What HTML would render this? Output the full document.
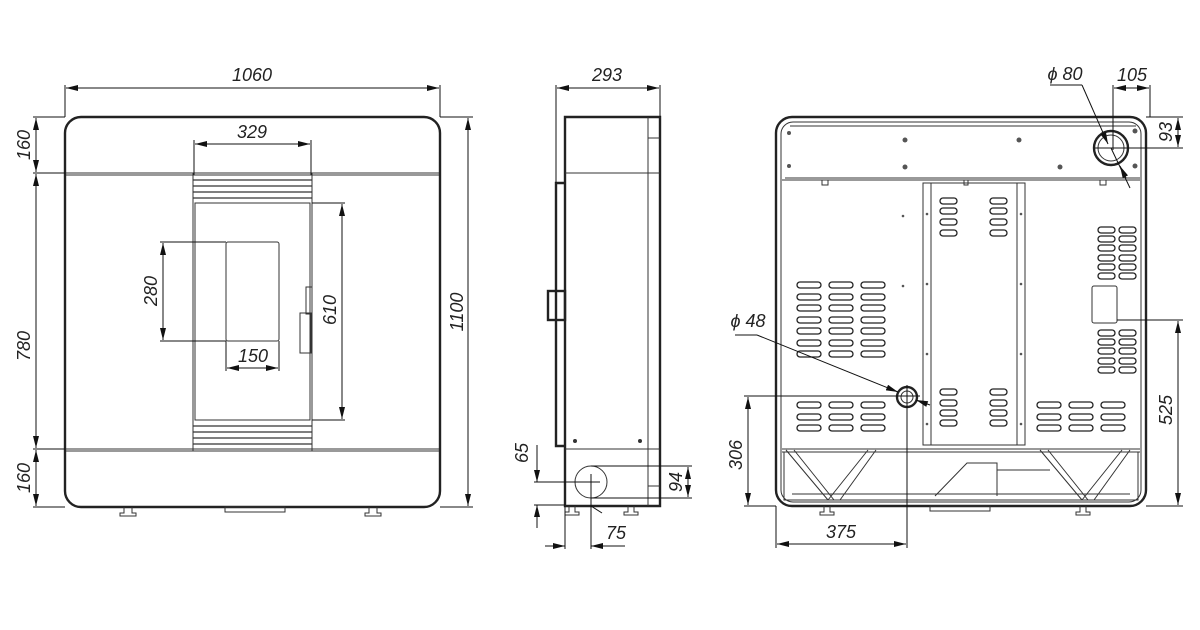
<!DOCTYPE html>
<html><head><meta charset="utf-8"><style>
html,body{margin:0;padding:0;background:#fff}
svg{display:block}
text{font-family:"Liberation Sans",sans-serif;font-size:18px;font-style:italic;fill:#222}
.o{fill:none;stroke:#222;stroke-width:2.4}
.t{fill:none;stroke:#333;stroke-width:1}
.m{fill:none;stroke:#333;stroke-width:1.3}
.d{stroke:#111;stroke-width:1;fill:none}
</style></head><body>
<svg width="1200" height="630" viewBox="0 0 1200 630" xmlns="http://www.w3.org/2000/svg">
<defs>
<marker id="a" viewBox="0 0 12 6" refX="12" refY="3" markerWidth="12" markerHeight="6" markerUnits="userSpaceOnUse" orient="auto-start-reverse"><path d="M0,0L12,3L0,6z" fill="#111"/></marker>
<rect id="s" width="24" height="6" rx="3" fill="none" stroke="#222" stroke-width="1.3"/>
<rect id="ss" width="17" height="6" rx="3" fill="none" stroke="#222" stroke-width="1.3"/>
</defs>

<!-- FRONT VIEW -->
<rect class="o" x="65" y="117" width="375" height="390" rx="16"/>
<line class="t" x1="66" y1="173" x2="439" y2="173"/><line class="t" x1="66" y1="175" x2="439" y2="175"/>
<line class="t" x1="66" y1="449" x2="439" y2="449"/><line class="t" x1="66" y1="451" x2="439" y2="451"/>
<rect class="t" x="193" y="173" width="119" height="278"/>
<g class="m"><line x1="193" y1="180" x2="312" y2="180"/><line x1="193" y1="186" x2="312" y2="186"/><line x1="193" y1="192" x2="312" y2="192"/><line x1="193" y1="198" x2="312" y2="198"/>
<line x1="193" y1="426" x2="312" y2="426"/><line x1="193" y1="432" x2="312" y2="432"/><line x1="193" y1="438" x2="312" y2="438"/><line x1="193" y1="444" x2="312" y2="444"/></g>
<rect class="t" x="195" y="203" width="115" height="217"/>
<rect class="t" x="226" y="242" width="53" height="99" rx="2"/>
<rect class="t" x="300" y="313" width="11" height="40"/>
<rect class="t" x="306" y="287" width="6" height="27"/>
<rect class="t" x="225" y="507" width="60" height="5"/>
<path class="t" d="M124 507v6h-4v3h16v-3h-4v-6M369 507v6h-4v3h16v-3h-4v-6"/>
<g class="d">
<line x1="65" y1="85" x2="65" y2="117"/><line x1="440" y1="85" x2="440" y2="117"/>
<line x1="66" y1="88" x2="439" y2="88" marker-start="url(#a)" marker-end="url(#a)"/>
<line x1="440" y1="117" x2="473" y2="117"/><line x1="440" y1="507" x2="473" y2="507"/>
<line x1="468" y1="118" x2="468" y2="506" marker-start="url(#a)" marker-end="url(#a)"/>
<line x1="33" y1="117" x2="65" y2="117"/><line x1="33" y1="173" x2="65" y2="173"/><line x1="33" y1="449" x2="65" y2="449"/><line x1="33" y1="507" x2="65" y2="507"/>
<line x1="36" y1="118" x2="36" y2="172" marker-start="url(#a)" marker-end="url(#a)"/>
<line x1="36" y1="174" x2="36" y2="448" marker-start="url(#a)" marker-end="url(#a)"/>
<line x1="36" y1="450" x2="36" y2="506" marker-start="url(#a)" marker-end="url(#a)"/>
<line x1="194" y1="140" x2="194" y2="175"/><line x1="311" y1="140" x2="311" y2="175"/>
<line x1="195" y1="144" x2="310" y2="144" marker-start="url(#a)" marker-end="url(#a)"/>
<line x1="160" y1="242" x2="226" y2="242"/><line x1="160" y1="341" x2="226" y2="341"/>
<line x1="163" y1="243" x2="163" y2="340" marker-start="url(#a)" marker-end="url(#a)"/>
<line x1="312" y1="203" x2="345" y2="203"/><line x1="312" y1="420" x2="345" y2="420"/>
<line x1="342" y1="204" x2="342" y2="419" marker-start="url(#a)" marker-end="url(#a)"/>
<line x1="226" y1="341" x2="226" y2="371"/><line x1="279" y1="341" x2="279" y2="371"/>
<line x1="227" y1="368" x2="278" y2="368" marker-start="url(#a)" marker-end="url(#a)"/>
</g>
<text x="252" y="81" text-anchor="middle">1060</text>
<text x="252" y="138" text-anchor="middle">329</text>
<text x="253" y="362" text-anchor="middle">150</text>
<text transform="translate(463,312) rotate(-90)" text-anchor="middle">1100</text>
<text transform="translate(30,145) rotate(-90)" text-anchor="middle">160</text>
<text transform="translate(30,346) rotate(-90)" text-anchor="middle">780</text>
<text transform="translate(30,478) rotate(-90)" text-anchor="middle">160</text>
<text transform="translate(157,291) rotate(-90)" text-anchor="middle">280</text>
<text transform="translate(336,310) rotate(-90)" text-anchor="middle">610</text>

<!-- SIDE VIEW -->
<path class="o" d="M565 117H660V506H565Z"/>
<path class="o" d="M565 183H556V446H565" />
<rect class="o" x="548" y="291" width="17" height="29"/>
<line class="t" x1="565" y1="173" x2="660" y2="173"/>
<line class="t" x1="565" y1="449" x2="660" y2="449"/>
<line class="t" x1="648" y1="117" x2="648" y2="506"/>
<line class="t" x1="648" y1="138" x2="660" y2="138"/>
<line class="t" x1="648" y1="486" x2="660" y2="486"/>
<circle cx="575" cy="441" r="2" fill="#333"/><circle cx="640" cy="441" r="2" fill="#333"/>
<circle class="t" cx="591" cy="482" r="16"/>
<path class="t" d="M569 506v6h-4v3h14v-3h-4v-6M628 506v6h-4v3h14v-3h-4v-6"/>
<g class="d">
<line x1="556" y1="85" x2="556" y2="183"/><line x1="660" y1="85" x2="660" y2="117"/>
<line x1="557" y1="88" x2="659" y2="88" marker-start="url(#a)" marker-end="url(#a)"/>
<line x1="534" y1="482" x2="600" y2="482"/><line x1="534" y1="505" x2="565" y2="505"/>
<line x1="537" y1="445" x2="537" y2="482" marker-end="url(#a)"/>
<line x1="537" y1="528" x2="537" y2="505" marker-end="url(#a)"/>
<line x1="591" y1="474" x2="591" y2="549"/><line x1="565" y1="506" x2="565" y2="549"/>
<line x1="545" y1="546" x2="565" y2="546" marker-end="url(#a)"/>
<line x1="625" y1="546" x2="591" y2="546" marker-end="url(#a)"/>
<line x1="591" y1="466" x2="692" y2="466"/><line x1="591" y1="498" x2="692" y2="498"/>
<line x1="688" y1="467" x2="688" y2="497" marker-start="url(#a)" marker-end="url(#a)"/>
<line x1="591" y1="506" x2="602" y2="513"/>
</g>
<text x="607" y="81" text-anchor="middle">293</text>
<text x="616" y="539" text-anchor="middle">75</text>
<text transform="translate(528,453) rotate(-90)" text-anchor="middle">65</text>
<text transform="translate(682,482) rotate(-90)" text-anchor="middle">94</text>

<!-- BACK VIEW -->
<rect class="o" x="776" y="117" width="370" height="389" rx="16"/>
<rect class="t" x="781" y="122" width="360" height="380" rx="12"/>
<line class="t" x1="790" y1="126" x2="1136" y2="126"/>
<line class="t" x1="782" y1="180" x2="1140" y2="180"/>
<line class="t" x1="785" y1="178" x2="1140" y2="178"/>
<rect class="t" x="923" y="183" width="102" height="262"/>
<line class="t" x1="931" y1="183" x2="931" y2="445"/><line class="t" x1="1017" y1="183" x2="1017" y2="445"/>
<line class="t" x1="782" y1="449" x2="1140" y2="449"/>
<line class="t" x1="782" y1="452" x2="1140" y2="452"/>
<circle class="o" cx="1111" cy="148" r="17" stroke-width="1.5"/><circle class="t" cx="1111" cy="148" r="13"/>
<circle class="o" cx="907" cy="397" r="10" stroke-width="1.5"/><circle class="t" cx="907" cy="397" r="6"/>
<g fill="#555"><circle cx="905" cy="140" r="2.5"/><circle cx="1019" cy="140" r="2.5"/><circle cx="905" cy="167" r="2.5"/><circle cx="1060" cy="167" r="2.5"/><circle cx="1135" cy="131" r="2.5"/><circle cx="1135" cy="166" r="2.5"/><circle cx="789" cy="133" r="2"/><circle cx="789" cy="166" r="2"/>
<circle cx="903" cy="216" r="1.3"/><circle cx="903" cy="286" r="1.3"/><circle cx="927" cy="214" r="1.3"/><circle cx="927" cy="284" r="1.3"/><circle cx="927" cy="354" r="1.3"/><circle cx="927" cy="424" r="1.3"/><circle cx="1021" cy="214" r="1.3"/><circle cx="1021" cy="284" r="1.3"/><circle cx="1021" cy="354" r="1.3"/><circle cx="1021" cy="424" r="1.3"/></g>
<path class="t" d="M822 180v5h6v-5M964 180v5h4v-5M1100 180v5h6v-5"/>
<g>
<use href="#s" x="797" y="282"/><use href="#s" x="829" y="282"/><use href="#s" x="861" y="282"/>
<use href="#s" x="797" y="294"/><use href="#s" x="829" y="294"/><use href="#s" x="861" y="294"/>
<use href="#s" x="797" y="305"/><use href="#s" x="829" y="305"/><use href="#s" x="861" y="305"/>
<use href="#s" x="797" y="317"/><use href="#s" x="829" y="317"/><use href="#s" x="861" y="317"/>
<use href="#s" x="797" y="328"/><use href="#s" x="829" y="328"/><use href="#s" x="861" y="328"/>
<use href="#s" x="797" y="340"/><use href="#s" x="829" y="340"/><use href="#s" x="861" y="340"/>
<use href="#s" x="797" y="351"/><use href="#s" x="829" y="351"/><use href="#s" x="861" y="351"/>
<use href="#s" x="797" y="402"/><use href="#s" x="829" y="402"/><use href="#s" x="861" y="402"/>
<use href="#s" x="797" y="414"/><use href="#s" x="829" y="414"/><use href="#s" x="861" y="414"/>
<use href="#s" x="797" y="425"/><use href="#s" x="829" y="425"/><use href="#s" x="861" y="425"/>
<use href="#s" x="1037" y="402"/><use href="#s" x="1069" y="402"/><use href="#s" x="1101" y="402"/>
<use href="#s" x="1037" y="414"/><use href="#s" x="1069" y="414"/><use href="#s" x="1101" y="414"/>
<use href="#s" x="1037" y="425"/><use href="#s" x="1069" y="425"/><use href="#s" x="1101" y="425"/>
<use href="#ss" x="940" y="198"/><use href="#ss" x="990" y="198"/>
<use href="#ss" x="940" y="208"/><use href="#ss" x="990" y="208"/>
<use href="#ss" x="940" y="219"/><use href="#ss" x="990" y="219"/>
<use href="#ss" x="940" y="230"/><use href="#ss" x="990" y="230"/>
<use href="#ss" x="940" y="389"/><use href="#ss" x="990" y="389"/>
<use href="#ss" x="940" y="400"/><use href="#ss" x="990" y="400"/>
<use href="#ss" x="940" y="410"/><use href="#ss" x="990" y="410"/>
<use href="#ss" x="940" y="420"/><use href="#ss" x="990" y="420"/>
<use href="#ss" x="1098" y="227"/><use href="#ss" x="1119" y="227"/>
<use href="#ss" x="1098" y="236"/><use href="#ss" x="1119" y="236"/>
<use href="#ss" x="1098" y="245"/><use href="#ss" x="1119" y="245"/>
<use href="#ss" x="1098" y="255"/><use href="#ss" x="1119" y="255"/>
<use href="#ss" x="1098" y="264"/><use href="#ss" x="1119" y="264"/>
<use href="#ss" x="1098" y="273"/><use href="#ss" x="1119" y="273"/>
<use href="#ss" x="1098" y="330"/><use href="#ss" x="1119" y="330"/>
<use href="#ss" x="1098" y="339"/><use href="#ss" x="1119" y="339"/>
<use href="#ss" x="1098" y="348"/><use href="#ss" x="1119" y="348"/>
<use href="#ss" x="1098" y="358"/><use href="#ss" x="1119" y="358"/>
<use href="#ss" x="1098" y="367"/><use href="#ss" x="1119" y="367"/>
</g>
<rect class="t" x="1092" y="286" width="25" height="37" rx="2"/>
<rect class="t" x="784" y="452" width="354" height="48"/>
<line class="t" x1="792" y1="494" x2="1130" y2="494"/>
<path class="t" d="M786 450L828 500M794 450L834 500M868 450L828 500M876 450L840 500M1040 450L1082 500M1048 450L1088 500M1122 450L1082 500M1130 450L1094 500"/>
<path class="t" d="M935 496L967 463H997V496M997 470H1050"/>
<rect class="t" x="930" y="506" width="60" height="5"/>
<path class="t" d="M824 506v6h-4v3h14v-3h-4v-6M1080 506v6h-4v3h14v-3h-4v-6"/>
<g class="d">
<line x1="1050" y1="85" x2="1082" y2="85"/><line x1="1082" y1="85" x2="1108" y2="144" marker-end="url(#a)"/>
<line x1="1111" y1="148" x2="1130" y2="188"/><line x1="1126" y1="178" x2="1120" y2="166" marker-end="url(#a)"/>
<line x1="1113" y1="85" x2="1113" y2="150"/><line x1="1150" y1="85" x2="1150" y2="117"/>
<line x1="1114" y1="88" x2="1149" y2="88" marker-start="url(#a)" marker-end="url(#a)"/>
<line x1="1146" y1="117" x2="1183" y2="117"/><line x1="1095" y1="148" x2="1183" y2="148"/>
<line x1="1178" y1="118" x2="1178" y2="147" marker-start="url(#a)" marker-end="url(#a)"/>
<line x1="1117" y1="320" x2="1183" y2="320"/><line x1="1146" y1="506" x2="1183" y2="506"/>
<line x1="1178" y1="321" x2="1178" y2="505" marker-start="url(#a)" marker-end="url(#a)"/>
<line x1="735" y1="335" x2="757" y2="335"/><line x1="757" y1="335" x2="898" y2="392" marker-end="url(#a)"/>
<line x1="930" y1="405" x2="916" y2="400" marker-end="url(#a)"/>
<line x1="744" y1="396" x2="920" y2="396"/><line x1="744" y1="506" x2="776" y2="506"/>
<line x1="748" y1="397" x2="748" y2="505" marker-start="url(#a)" marker-end="url(#a)"/>
<line x1="776" y1="506" x2="776" y2="548"/><line x1="907" y1="385" x2="907" y2="548"/>
<line x1="777" y1="544" x2="906" y2="544" marker-start="url(#a)" marker-end="url(#a)"/>
</g>
<text x="1065" y="80" text-anchor="middle">ϕ 80</text>
<text x="1132" y="81" text-anchor="middle">105</text>
<text x="748" y="327" text-anchor="middle">ϕ 48</text>
<text x="841" y="538" text-anchor="middle">375</text>
<text transform="translate(1172,132) rotate(-90)" text-anchor="middle">93</text>
<text transform="translate(1172,410) rotate(-90)" text-anchor="middle">525</text>
<text transform="translate(742,455) rotate(-90)" text-anchor="middle">306</text>
</svg>
</body></html>
